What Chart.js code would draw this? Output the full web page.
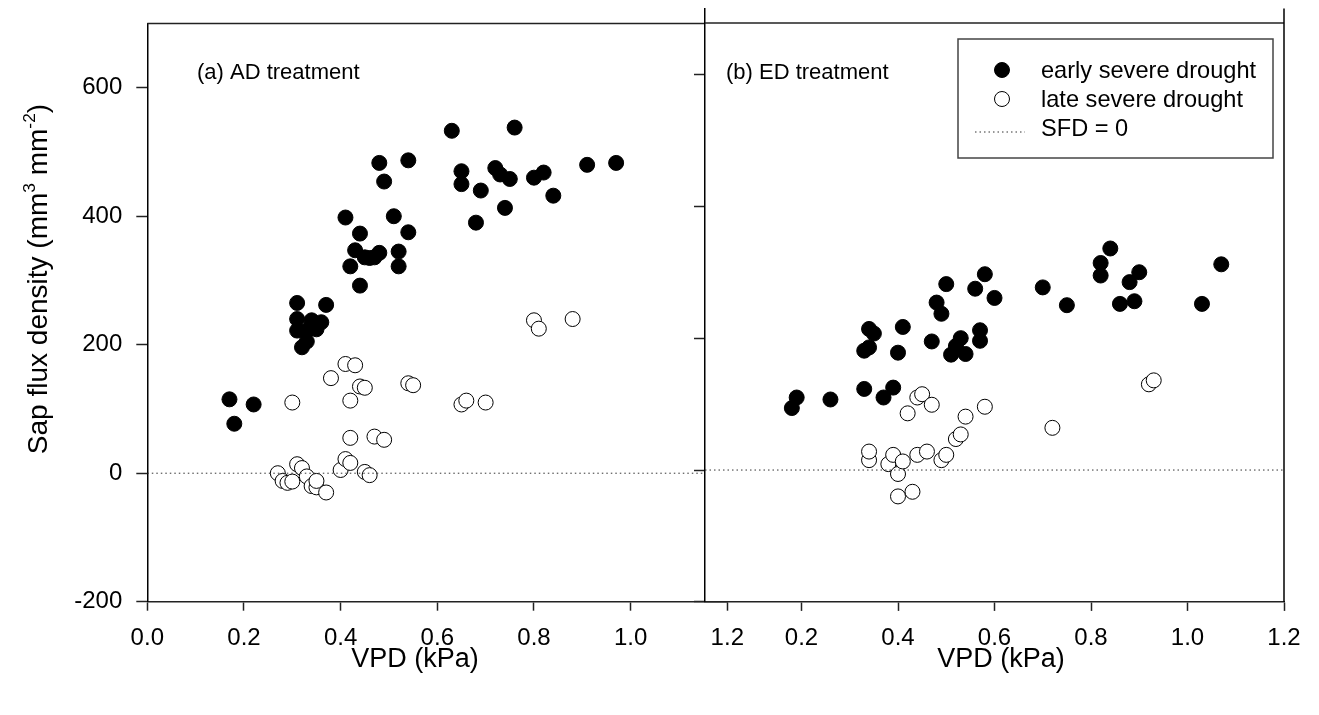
<!DOCTYPE html>
<html>
<head>
<meta charset="utf-8">
<script src="https://cdn.jsdelivr.net/npm/chart.js@4.4.1/dist/chart.umd.min.js"></script>
<style>
  html, body { margin: 0; padding: 0; background: #fff; }
  #wrap { position: relative; width: 1319px; height: 715px; overflow: hidden; }
  #wrap canvas { position: absolute; top: 0; }
  #panelA { left: 0; }
  #panelB { left: 680px; }
</style>
</head>
<body>
<div id="wrap">
  <canvas id="panelA" width="760" height="715"></canvas>
  <canvas id="panelB" width="639" height="715"></canvas>
</div>
<script>
// ---- tick labels ----
const xTickValues = [0, 0.2, 0.4, 0.6, 0.8, 1.0, 1.2];
const xTickValuesB = [0.2, 0.4, 0.6, 0.8, 1.0, 1.2];
const yTickValues = [-200, 0, 200, 400, 600];

// ---- series names ----
const seriesNames = ['early severe drought', 'late severe drought', 'SFD = 0'];
const panelNames = ['(a) AD treatment', '(b) ED treatment'];

// ---- (a) AD treatment ----
const adEarlyVpd = [0.17, 0.18, 0.22, 0.31, 0.31, 0.31, 0.32, 0.33, 0.33, 0.34, 0.35, 0.36, 0.37,
  0.41, 0.42, 0.43, 0.44, 0.44, 0.45, 0.46, 0.47, 0.48, 0.48, 0.49, 0.51, 0.52, 0.52, 0.54, 0.54,
  0.63, 0.65, 0.65, 0.68, 0.69, 0.72, 0.73, 0.74, 0.75, 0.76, 0.80, 0.82, 0.84, 0.91, 0.97];
const adEarlySfd = [115, 77, 107, 265, 240, 222, 196, 205, 222, 238, 224, 235, 262,
  398, 322, 347, 373, 292, 336, 335, 336, 343, 483, 454, 400, 345, 322, 487, 375,
  533, 470, 450, 390, 440, 475, 465, 413, 458, 538, 460, 468, 432, 480, 483];
const adLateVpd = [0.27, 0.28, 0.29, 0.30, 0.30, 0.31, 0.32, 0.33, 0.34, 0.35, 0.35, 0.37,
  0.38, 0.40, 0.41, 0.41, 0.42, 0.42, 0.42, 0.43, 0.44, 0.45, 0.45, 0.46, 0.47, 0.49,
  0.54, 0.55, 0.65, 0.66, 0.70, 0.80, 0.81, 0.88];
const adLateSfd = [0, -12, -15, -13, 110, 14, 8, -5, -20, -22, -12, -30,
  148, 5, 170, 22, 55, 16, 113, 168, 135, 2, 133, -3, 57, 52,
  140, 137, 107, 113, 110, 238, 225, 240];

// ---- (b) ED treatment ----
const edEarlyVpd = [0.18, 0.19, 0.26, 0.33, 0.33, 0.34, 0.34, 0.35, 0.37, 0.39, 0.40, 0.41,
  0.47, 0.48, 0.49, 0.50, 0.51, 0.52, 0.53, 0.54, 0.56, 0.57, 0.57, 0.58, 0.60,
  0.70, 0.75, 0.82, 0.82, 0.84, 0.86, 0.88, 0.89, 0.90, 1.03, 1.07];
const edEarlySfd = [94, 110, 107, 181, 123, 214, 186, 207, 110, 125, 178, 217,
  195, 254, 237, 282, 175, 188, 200, 176, 275, 212, 196, 297, 261,
  277, 250, 295, 314, 336, 252, 285, 256, 300, 252, 312];
const edLateVpd = [0.34, 0.34, 0.38, 0.39, 0.40, 0.40, 0.41, 0.42, 0.43, 0.44, 0.44, 0.45,
  0.46, 0.47, 0.49, 0.50, 0.52, 0.53, 0.54, 0.58, 0.72, 0.92, 0.93];
const edLateSfd = [15, 28, 9, 23, -6, -40, 13, 86, -33, 23, 110, 115,
  28, 99, 15, 23, 47, 54, 81, 96, 64, 130, 136];

const zeroLineVpd = [0, 1.2];
const zeroLineSfd = [0, 0];

const FONT = "'Liberation Sans', Arial, Helvetica, sans-serif";
const INK = '#000';
const FRAME = '#222';

function toPoints(xs, ys) {
  return xs.map((x, i) => ({ x: x, y: ys[i] }));
}

function buildDatasets(earlyX, earlyY, lateX, lateY) {
  return [
    {
      label: seriesNames[2],
      type: 'line',
      data: toPoints(zeroLineVpd, zeroLineSfd),
      borderColor: '#333',
      borderWidth: 1,
      borderDash: [1.5, 3],
      pointRadius: 0,
      fill: false
    },
    {
      label: seriesNames[0],
      data: toPoints(earlyX, earlyY),
      backgroundColor: INK,
      borderColor: INK,
      borderWidth: 1,
      pointRadius: 7.5
    },
    {
      label: seriesNames[1],
      data: toPoints(lateX, lateY),
      backgroundColor: '#fff',
      borderColor: INK,
      borderWidth: 1,
      pointRadius: 7.5
    }
  ];
}

// draws text with superscript parts, centred on (cx, cy)
function drawRichText(ctx, parts, cx, cy, size, rotate) {
  ctx.save();
  ctx.translate(cx, cy);
  if (rotate) ctx.rotate(-Math.PI / 2);
  let total = 0;
  parts.forEach(p => {
    ctx.font = (p.sup ? size * 0.62 : size) + 'px ' + FONT;
    p.w = ctx.measureText(p.t).width;
    total += p.w;
  });
  let x = -total / 2;
  ctx.fillStyle = INK;
  ctx.textAlign = 'left';
  ctx.textBaseline = 'alphabetic';
  parts.forEach(p => {
    ctx.font = (p.sup ? size * 0.62 : size) + 'px ' + FONT;
    ctx.fillText(p.t, x, size * 0.36 - (p.sup ? size * 0.42 : 0));
    x += p.w;
  });
  ctx.restore();
}

/**
 * Panel decoration: white plot area, top / right frame lines, titles, legend
 */
const panelDecor = {
  id: 'panelDecor',
  beforeDraw(chart, args, opts) {
    const { ctx, chartArea: a } = chart;
    if (opts.fillArea) {
      ctx.save();
      ctx.fillStyle = '#fff';
      ctx.fillRect(a.left, a.top, a.right - a.left, a.bottom - a.top);
      ctx.restore();
    }
  },
  afterDraw(chart, args, opts) {
    const { ctx, chartArea: a } = chart;
    const yScale = chart.scales.y;
    const off = opts.offsetX || 0;

    ctx.save();
    ctx.strokeStyle = FRAME;
    ctx.lineWidth = 1.5;
    const ty = opts.topValue != null ? yScale.getPixelForValue(opts.topValue) : a.top;
    ctx.beginPath();
    ctx.moveTo(a.left, ty);
    ctx.lineTo(a.right, ty);
    ctx.stroke();
    if (opts.rightEdge) {
      ctx.strokeStyle = INK;
      ctx.beginPath();
      ctx.moveTo(a.right, a.top);
      ctx.lineTo(a.right, a.bottom);
      ctx.stroke();
    }

    // panel label + x title
    ctx.fillStyle = INK;
    ctx.textAlign = 'left';
    ctx.textBaseline = 'alphabetic';
    ctx.font = '22px ' + FONT;
    ctx.fillText(opts.panelLabel, opts.panelLabelX - off, 79);

    ctx.textAlign = 'center';
    ctx.textBaseline = 'middle';
    ctx.font = '27px ' + FONT;
    ctx.fillText('VPD (kPa)', opts.xTitleX - off, 660);

    if (opts.yTitle) {
      drawRichText(ctx, [
        { t: 'Sap flux density (mm' }, { t: '3', sup: true },
        { t: ' mm' }, { t: '-2', sup: true }, { t: ')' }
      ], 37, 279, 28, true);
    }

    if (opts.legend) {
      const bx = 958 - off, by = 39, bw = 315, bh = 119;
      ctx.strokeStyle = '#444';
      ctx.lineWidth = 1.5;
      ctx.strokeRect(bx, by, bw, bh);
      const sx = 1002 - off;
      const tx = 1041 - off;
      const rows = [70, 99, 128];
      const ds = chart.data.datasets;

      ctx.lineWidth = 1;
      ctx.fillStyle = ds[1].backgroundColor;
      ctx.strokeStyle = ds[1].borderColor;
      ctx.beginPath();
      ctx.arc(sx, rows[0], 7.5, 0, Math.PI * 2);
      ctx.fill();
      ctx.stroke();

      ctx.fillStyle = ds[2].backgroundColor;
      ctx.strokeStyle = ds[2].borderColor;
      ctx.beginPath();
      ctx.arc(sx, rows[1], 7.5, 0, Math.PI * 2);
      ctx.fill();
      ctx.stroke();

      ctx.strokeStyle = ds[0].borderColor;
      ctx.setLineDash(ds[0].borderDash);
      ctx.beginPath();
      ctx.moveTo(975 - off, rows[2] + 4);
      ctx.lineTo(1025 - off, rows[2] + 4);
      ctx.stroke();
      ctx.setLineDash([]);

      ctx.fillStyle = INK;
      ctx.textAlign = 'left';
      ctx.textBaseline = 'middle';
      ctx.font = '23.6px ' + FONT;
      ctx.fillText(ds[1].label, tx, rows[0] + 1);
      ctx.fillText(ds[2].label, tx, rows[1] + 1);
      ctx.fillText(ds[0].label, tx, rows[2] + 1);
    }
    ctx.restore();
  }
};

function axisOptions(opts) {
  return {
    x: {
      type: 'linear',
      min: 0,
      max: 1.2,
      afterFit: s => { s.height = opts.xHeight; s.paddingLeft = 0; s.paddingRight = 0; },
      afterBuildTicks: s => { s.ticks = opts.xTicks.map(v => ({ value: v })); },
      grid: { drawOnChartArea: false, tickLength: 9, tickColor: FRAME, tickWidth: 1.5 },
      border: { color: FRAME, width: 1.5 },
      ticks: {
        padding: 13,
        color: INK,
        autoSkip: false,
        maxRotation: 0,
        font: { family: FONT, size: 24 },
        callback: v => Number(v).toFixed(1)
      }
    },
    y: {
      type: 'linear',
      min: -200,
      max: 700,
      afterFit: s => { s.width = opts.yWidth; s.paddingTop = 0; s.paddingBottom = 0; },
      afterBuildTicks: s => { s.ticks = yTickValues.map(v => ({ value: v })); },
      grid: { drawOnChartArea: false, tickLength: 11, tickColor: FRAME, tickWidth: 1.5 },
      border: { color: INK, width: 1.5 },
      ticks: {
        display: opts.yLabels,
        padding: 14,
        color: INK,
        font: { family: FONT, size: 24 },
        callback: v => String(v)
      }
    }
  };
}

const baseOptions = {
  responsive: false,
  animation: false,
  events: [],
  plugins: { legend: { display: false }, tooltip: { enabled: false } }
};

// Panel (a)
new Chart(document.getElementById('panelA'), {
  type: 'scatter',
  data: { datasets: buildDatasets(adEarlyVpd, adEarlySfd, adLateVpd, adLateSfd) },
  options: Object.assign({}, baseOptions, {
    layout: { padding: { top: 23.5, right: 32.7, left: 0, bottom: 0 } },
    scales: axisOptions({ xHeight: 113.3, yWidth: 147.3, xTicks: xTickValues, yLabels: true }),
    plugins: Object.assign({}, baseOptions.plugins, {
      panelDecor: {
        offsetX: 0,
        panelLabel: panelNames[0],
        panelLabelX: 197,
        xTitleX: 415,
        yTitle: true
      }
    })
  }),
  plugins: [panelDecor]
});

// Panel (b) drawn over the right end of panel (a)
new Chart(document.getElementById('panelB'), {
  type: 'scatter',
  data: { datasets: buildDatasets(edEarlyVpd, edEarlySfd, edLateVpd, edLateSfd) },
  options: Object.assign({}, baseOptions, {
    layout: { padding: { top: 4.5, right: 35, left: 0, bottom: 0 } },
    scales: axisOptions({ xHeight: 113.1, yWidth: 25, xTicks: xTickValuesB, yLabels: false }),
    plugins: Object.assign({}, baseOptions.plugins, {
      panelDecor: {
        offsetX: 680,
        fillArea: true,
        topValue: 678,
        rightEdge: true,
        panelLabel: panelNames[1],
        panelLabelX: 726,
        xTitleX: 1001,
        legend: true
      }
    })
  }),
  plugins: [panelDecor]
});
</script>
</body>
</html>
